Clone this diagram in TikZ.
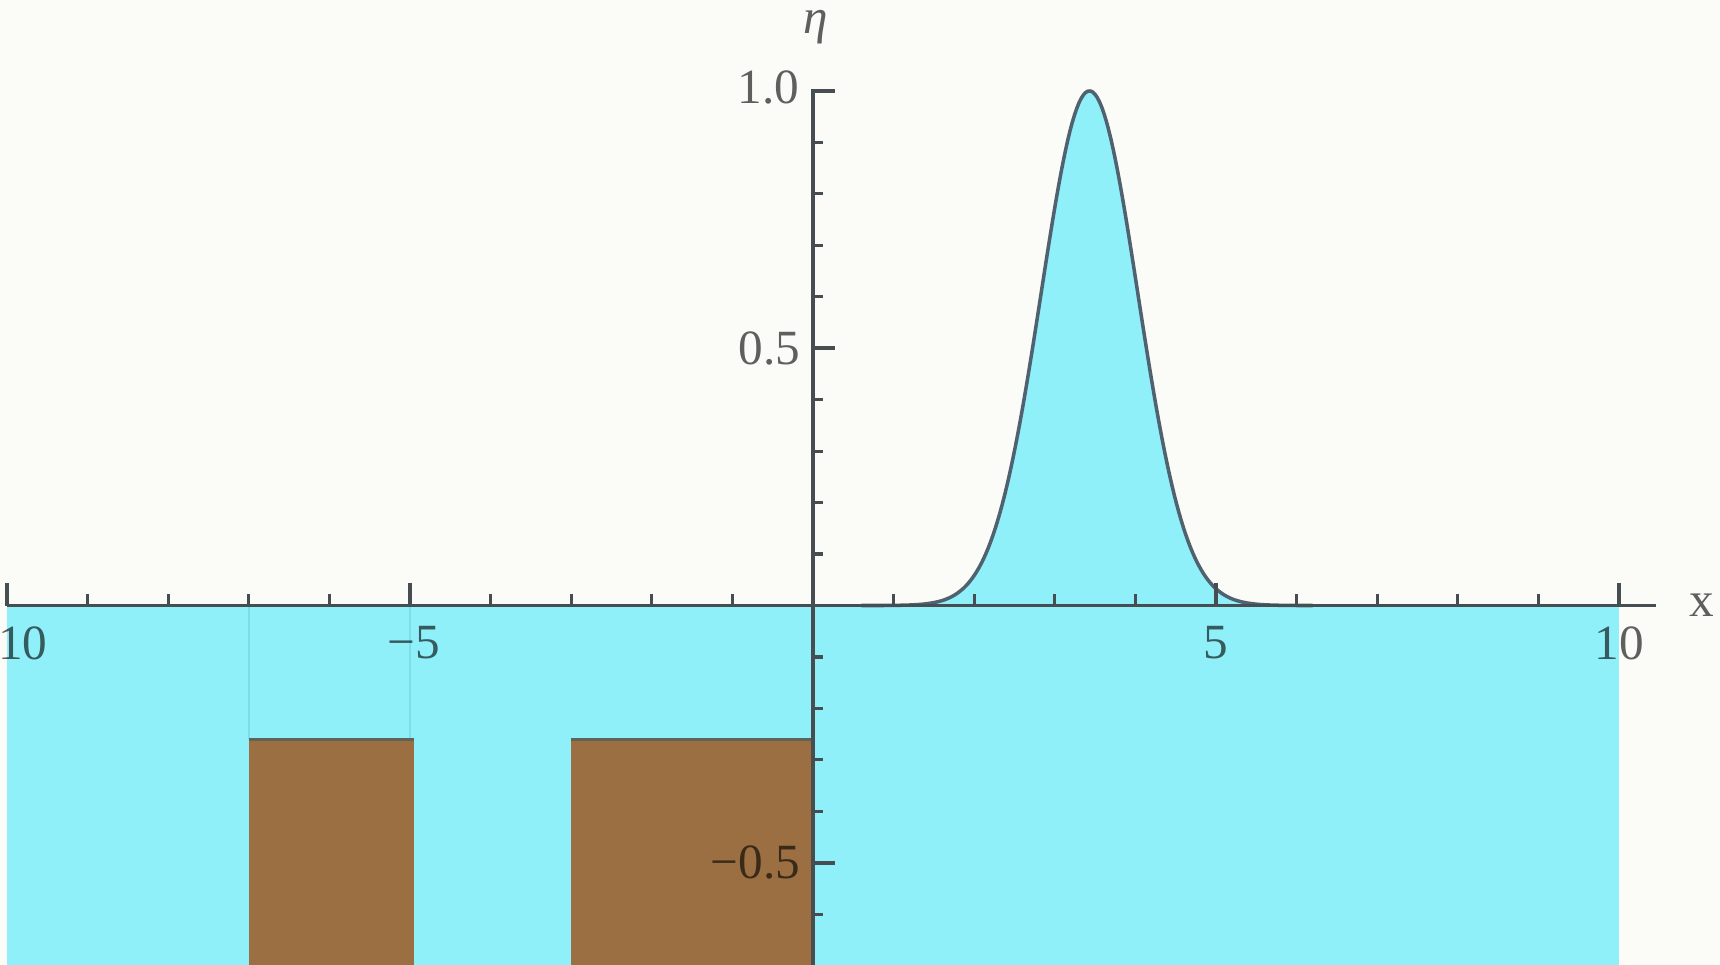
\documentclass[tikz,border=0pt]{standalone}
\usepackage{fontspec}
\setmainfont{Liberation Serif}
\definecolor{bg}{HTML}{FBFBF8}
\definecolor{water}{RGB}{143,240,250}
\definecolor{ground}{RGB}{155,111,66}
\definecolor{curvecol}{RGB}{80,98,112}
\definecolor{axiscol}{RGB}{70,78,82}
\definecolor{faintcol}{RGB}{122,222,234}
\definecolor{edgecol}{RGB}{95,100,90}
\tikzset{
  axisline/.style={draw=axiscol, line width=1.1pt},
  ticmajor/.style={draw=axiscol, line width=1pt},
  ticminor/.style={draw=axiscol, line width=0.9pt},
  ticklab/.style={font=\fontsize{14}{16}\selectfont, text=black, text opacity=0.62, inner sep=0pt},
  surface/.style={draw=curvecol, line width=1pt, line join=round},
  faint/.style={draw=faintcol, line width=0.6pt},
  groundedge/.style={draw=edgecol, line width=0.9pt}
}
\begin{document}
\begin{tikzpicture}[x=0.806cm,y=5.145cm]
\useasboundingbox (-10.087,-0.6987) rectangle (11.253,1.1769);
\fill[bg] (-10.087,-0.6987) rectangle (11.253,1.1769);
% water
\fill[water] (-10,-0.6987) rectangle (10,0);
\fill[water] (1,0) -- plot[domain=1:5.9,samples=160] (\x,{exp(-(\x-3.43)*(\x-3.43)/0.72)}) -- (5.9,0) -- cycle;
% faint lines
\draw[faint] (-7,0) -- (-7,-0.26);
\draw[faint] (-5,0) -- (-5,-0.26);
% ground blocks
\fill[ground] (-7,-0.6987) rectangle (-4.95,-0.26);
\fill[ground] (-3,-0.6987) rectangle (0,-0.26);
\draw[groundedge] (-7,-0.26) -- (-4.95,-0.26);
\draw[groundedge] (-3,-0.26) -- (0,-0.26);
% surface curve
\draw[surface] plot[domain=0.6:6.2,samples=200] (\x,{exp(-(\x-3.43)*(\x-3.43)/0.72)});
% axes
\coordinate (xa0) at (-10,0);
\coordinate (xa1) at (10.46,0);
\coordinate (ya0) at (0,-0.7);
\coordinate (ya1) at (0,1.003);
\draw[axisline] (xa0) -- (xa1);
\draw[axisline] (ya0) -- (ya1);
% x ticks
\foreach \t in {-9,-8,-7,-6,-4,-3,-2,-1,1,2,3,4,6,7,8,9}
  \draw[ticminor] (\t,0) -- ++(0,3.2pt);
\foreach \t in {-10,-5,5,10}
  \draw[ticmajor] (\t,0) -- ++(0,6.3pt);
% y ticks
\foreach \t in {-0.6,-0.4,-0.3,-0.2,-0.1,0.1,0.2,0.3,0.4,0.6,0.7,0.8,0.9}
  \draw[ticminor] (0,\t) -- ++(2.9pt,0);
\foreach \t in {-0.5,0.5,1.0}
  \draw[ticmajor] (0,\t) -- ++(6.3pt,0);
% tick labels
\node[ticklab, anchor=north] (lxm10) at ([yshift=-5.8pt,xshift=0.6pt]-10,0) {−10};
\node[ticklab, anchor=north] (lxm5) at ([yshift=-5.8pt,xshift=1pt]-5,0) {−5};
\node[ticklab, anchor=north] (lx5) at ([yshift=-5.8pt]5,0) {5};
\node[ticklab, anchor=north] (lx10) at ([yshift=-5.8pt]10,0) {10};
\node[ticklab, anchor=east] (ly1) at ([xshift=-3.8pt,yshift=1pt]0,1.0) {1.0};
\node[ticklab, anchor=east] (ly05) at ([xshift=-3.5pt]0,0.5) {0.5};
\node[ticklab, anchor=east] (lym05) at ([xshift=-3.5pt]0,-0.5) {−0.5};
% axis labels
\node[ticklab] (leta) at (0.03,1.124) {\itshape η};
\node[ticklab] (lx) at (11.03,0) {x};
\end{tikzpicture}
\end{document}
